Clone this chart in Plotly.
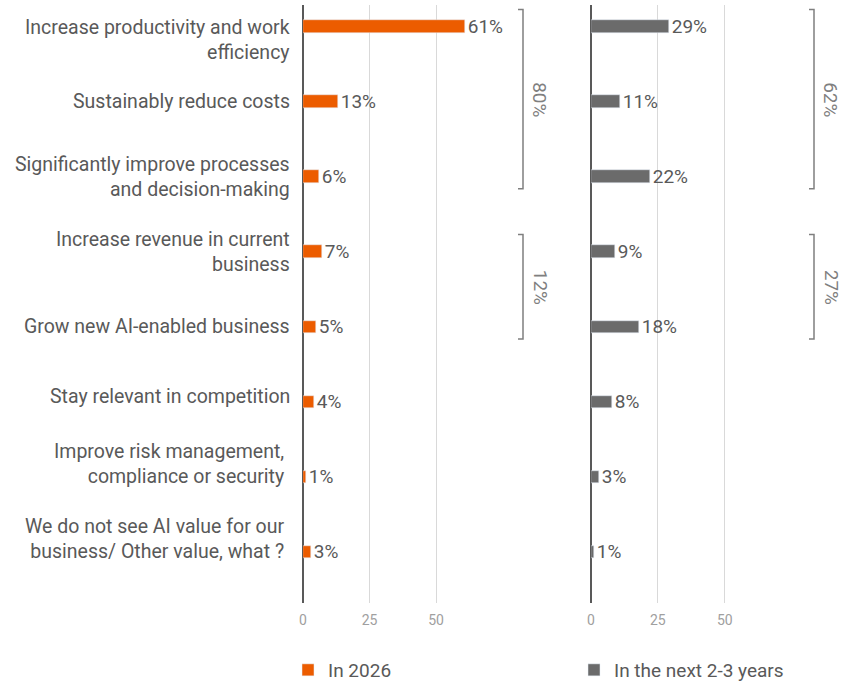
import plotly.graph_objects as go

# Survey answers: expected value from AI
categories = [
    "Increase productivity and work<br>efficiency",
    "Sustainably reduce costs",
    "Significantly improve processes<br>and decision-making",
    "Increase revenue in current<br>business",
    "Grow new AI-enabled business",
    "Stay relevant in competition",
    "Improve risk management,<br>compliance or security",
    "We do not see AI value for our<br>business/ Other value, what ?",
]
values_2026 = [61, 13, 6, 7, 5, 4, 1, 3]
values_next = [29, 11, 22, 9, 18, 8, 3, 1]
tick_vals = [0, 25, 50]

# Bracketed group totals: (first row, last row, total)
groups_2026 = [(0, 2, "80%"), (3, 4, "12%")]
groups_next = [(0, 2, "62%"), (3, 4, "27%")]

ORANGE = "#EC5C00"
GREY_BAR = "#6B6B6B"
TEXT = "#595959"
BRACKET = "#7F7F7F"
FONT = "Roboto"
LABEL_SIZE = 19.5

W, H = 850, 681
rows = list(range(len(categories)))

fig = go.Figure()
fig.add_trace(go.Bar(
    y=rows, x=values_2026, orientation="h", name="In 2026",
    marker=dict(color=ORANGE), width=0.17,
    text=[f"{v}%" for v in values_2026], textposition="outside",
    constraintext="none",
    textfont=dict(size=19, color=TEXT, family=FONT), cliponaxis=False,
    xaxis="x", yaxis="y", legend="legend",
))
fig.add_trace(go.Bar(
    y=rows, x=values_next, orientation="h", name="In the next 2-3 years",
    marker=dict(color=GREY_BAR), width=0.17,
    text=[f"{v}%" for v in values_next], textposition="outside",
    constraintext="none",
    textfont=dict(size=19, color=TEXT, family=FONT), cliponaxis=False,
    xaxis="x2", yaxis="y2", legend="legend2",
))

# Pixel layout of each panel
left_dom = [303 / W, 516 / W]
right_dom = [591 / W, 805 / W]
y_dom = [1 - 603 / H, 1 - 5 / H]
y_range = [7.68, -0.29]

common_x = dict(
    range=[0, 80], tickvals=tick_vals, showgrid=True, gridcolor="#D9D9D9",
    gridwidth=1.2, zeroline=True, zerolinecolor="#595959", zerolinewidth=1.5,
    tickfont=dict(size=14, color="#A0A0A0", family=FONT), showline=False,
    ticklabelstandoff=7, fixedrange=True,
)
fig.update_layout(
    width=W, height=H,
    margin=dict(l=0, r=0, t=0, b=0, autoexpand=False),
    paper_bgcolor="white", plot_bgcolor="white",
    font=dict(family=FONT, color=TEXT),
    showlegend=True,
    bargap=0,
    xaxis=dict(domain=left_dom, anchor="y", **common_x),
    xaxis2=dict(domain=right_dom, anchor="y2", **common_x),
    yaxis=dict(domain=y_dom, range=y_range, anchor="x",
               showticklabels=False, showgrid=False, zeroline=False),
    yaxis2=dict(domain=y_dom, range=y_range, anchor="x2",
                showticklabels=False, showgrid=False, zeroline=False),
    legend=dict(x=288 / W, y=1 - 651 / H, xanchor="left", yanchor="top",
                font=dict(size=19, color=TEXT, family=FONT),
                bgcolor="rgba(0,0,0,0)"),
    legend2=dict(x=574 / W, y=1 - 651 / H, xanchor="left", yanchor="top",
                 font=dict(size=19, color=TEXT, family=FONT),
                 bgcolor="rgba(0,0,0,0)"),
)

# Category labels, right-aligned against the left panel's zero line.
# Two-line labels sit with either their first or last line level with the bar.
first_line_rows = {0}
last_line_rows = {6, 7}
label_gap = {6: 17, 7: 17}
for r, label in zip(rows, categories):
    n_lines = label.count("<br>") + 1
    dy = 0
    if n_lines > 1 and r in first_line_rows:
        dy = -13
    elif n_lines > 1 and r in last_line_rows:
        dy = 13
    elif r == 5:
        dy = 5
    fig.add_annotation(
        xref="x", yref="y", x=0, y=r, text=label, showarrow=False,
        xanchor="right", yanchor="middle", align="right",
        xshift=-label_gap.get(r, 11), yshift=dy,
        font=dict(size=LABEL_SIZE, color=TEXT, family=FONT),
    )

# Brackets with group totals
def add_brackets(groups, xpix, yref):
    for first, last, label in groups:
        y0 = first - 0.23
        y1 = last + 0.16
        xr = xpix / W
        tick = 5 / W
        fig.add_shape(type="path", xref="paper", yref=yref,
                      path=f"M {xr - tick} {y0} L {xr} {y0} L {xr} {y1} L {xr - tick} {y1}",
                      line=dict(color=BRACKET, width=1.5))
        fig.add_annotation(xref="paper", yref=yref, x=(xpix + 17) / W,
                           y=(y0 + y1) / 2, text=label, textangle=90,
                           xanchor="center", yanchor="middle",
                           showarrow=False,
                           font=dict(size=19, color=BRACKET, family=FONT))

add_brackets(groups_2026, 523, "y")
add_brackets(groups_next, 814, "y2")

fig.write_html("out.html")
